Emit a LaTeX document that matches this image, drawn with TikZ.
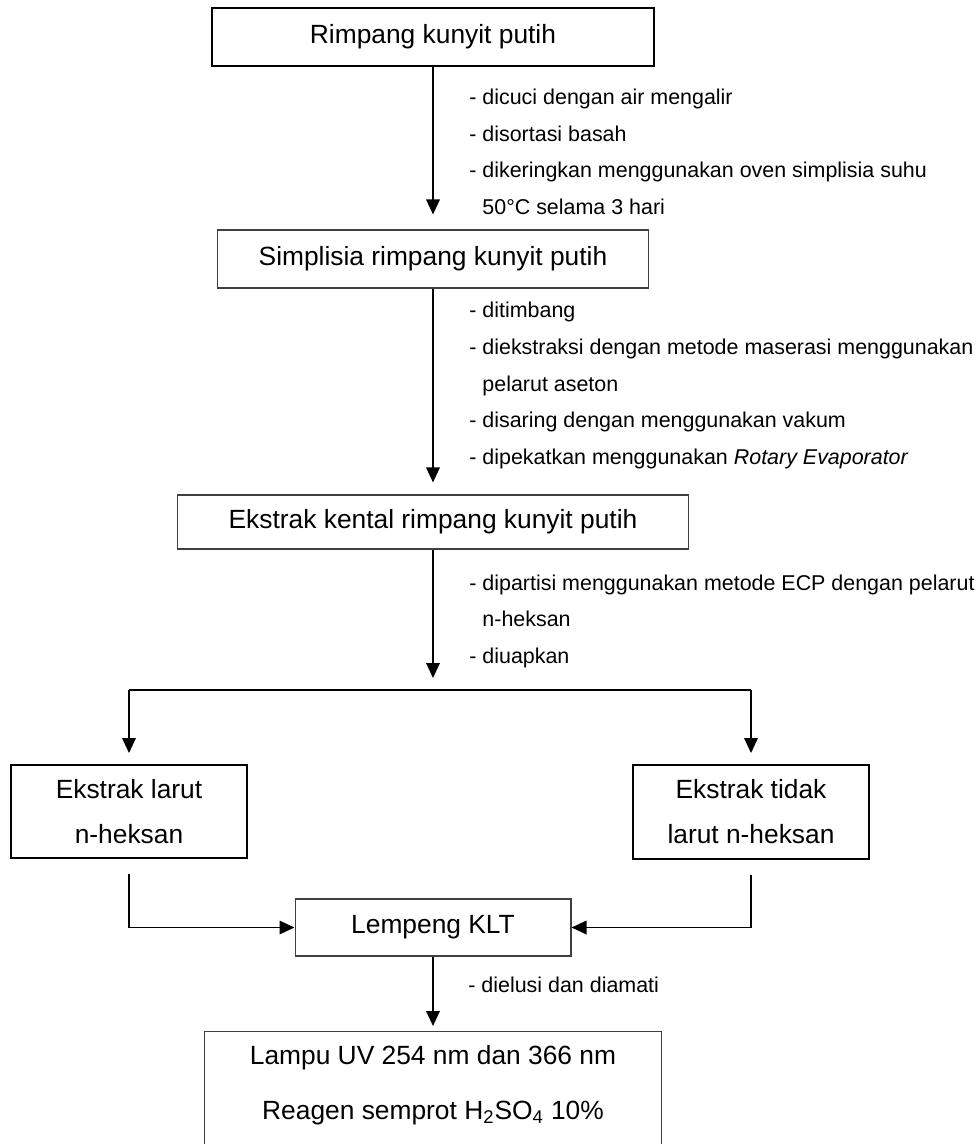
\documentclass[tikz,border=0pt]{standalone}
\usepackage{fontspec}
\setmainfont{Liberation Sans}
\usepackage{tikz}
\usetikzlibrary{arrows.meta, positioning}
\definecolor{boxGrey}{HTML}{404040}

\begin{document}
\begin{tikzpicture}[
    x=0.02cm, y=-0.02cm,
    boxtext/.style={font=\fontsize{15pt}{18pt}\selectfont, align=center},
    twoline/.style={font=\fontsize{15pt}{25.6pt}\selectfont},
    box/.style={rectangle, draw=black, line width=1.1pt, boxtext},
    thinbox/.style={rectangle, draw=boxGrey, line width=0.6pt, boxtext},
    note/.style={font=\fontsize{12.2pt}{20.8pt}\selectfont, align=left, anchor=west, inner xsep=0pt},
    arrow/.style={-{Triangle[length=0.3cm, width=0.27cm]}, line width=1pt},
    link/.style={line width=1pt}
]
\clip (0,0) rectangle (976,1144);

% Bahan
\node[box, minimum width=8.84cm, minimum height=1.16cm] (rimpang) at (433,37) {Rimpang kunyit putih};
\node[thinbox, minimum width=8.64cm, minimum height=1.16cm] (simplisia) at (433,259) {Simplisia rimpang kunyit putih};
\node[thinbox, minimum width=10.24cm, minimum height=1.08cm] (kental) at (433,522) {Ekstrak kental rimpang kunyit putih};

% Hasil partisi
\node[box, twoline, minimum width=4.72cm, minimum height=1.86cm] (larut) at (129,811.5) {Ekstrak larut\\n-heksan};
\node[box, twoline, minimum width=4.72cm, minimum height=1.88cm] (tidak) at (751,812) {Ekstrak tidak\\larut n-heksan};

% KLT
\node[thinbox, minimum width=5.52cm, minimum height=1.14cm] (klt) at (433,927.5) {Lempeng KLT};
\node[thinbox, anchor=north, minimum width=9.16cm, minimum height=3.2cm] (uv) at (433,1031) {};
\node[boxtext] (uvline1) at ([yshift=-0.54cm]uv.north) {Lampu UV 254 nm dan 366 nm};
\node[boxtext] (uvline2) at ([yshift=-1.64cm]uv.north) {Reagen semprot H\textsubscript{2}SO\textsubscript{4} 10\%};

% Keterangan proses
\node[note] (step1) at (469,152) {- dicuci dengan air mengalir\\- disortasi basah\\- dikeringkan menggunakan oven simplisia suhu\\\hphantom{- }50°C selama 3 hari};
\node[note] (step2) at (469,385.5) {- ditimbang\\- diekstraksi dengan metode maserasi menggunakan\\\hphantom{- }pelarut aseton\\- disaring dengan menggunakan vakum\\- dipekatkan menggunakan \textit{Rotary Evaporator}};
\node[note] (step3) at (469,621) {- dipartisi menggunakan metode ECP dengan pelarut\\\hphantom{- }n-heksan\\- diuapkan};
\node[note] (step4) at (468,985) {- dielusi dan diamati};

\coordinate (split) at (433,690);

% Panah
\draw[arrow, shorten >=0.3cm] (rimpang) -- (simplisia);
\draw[arrow, shorten >=0.24cm] (simplisia) -- (kental);
\draw[arrow, shorten >=0.24cm] (kental) -- (split);
\draw[link] (larut.north |- split) -- (tidak.north |- split);
\draw[arrow, shorten >=0.22cm] (larut.north |- split) -- (larut);
\draw[arrow, shorten >=0.22cm] (tidak.north |- split) -- (tidak);
\draw[arrow] ([yshift=-0.3cm]larut.south) |- (klt);
\draw[arrow] ([yshift=-0.3cm]tidak.south) |- (klt);
\draw[arrow, shorten >=0.1cm] (klt) -- (uv);

\end{tikzpicture}
\end{document}
